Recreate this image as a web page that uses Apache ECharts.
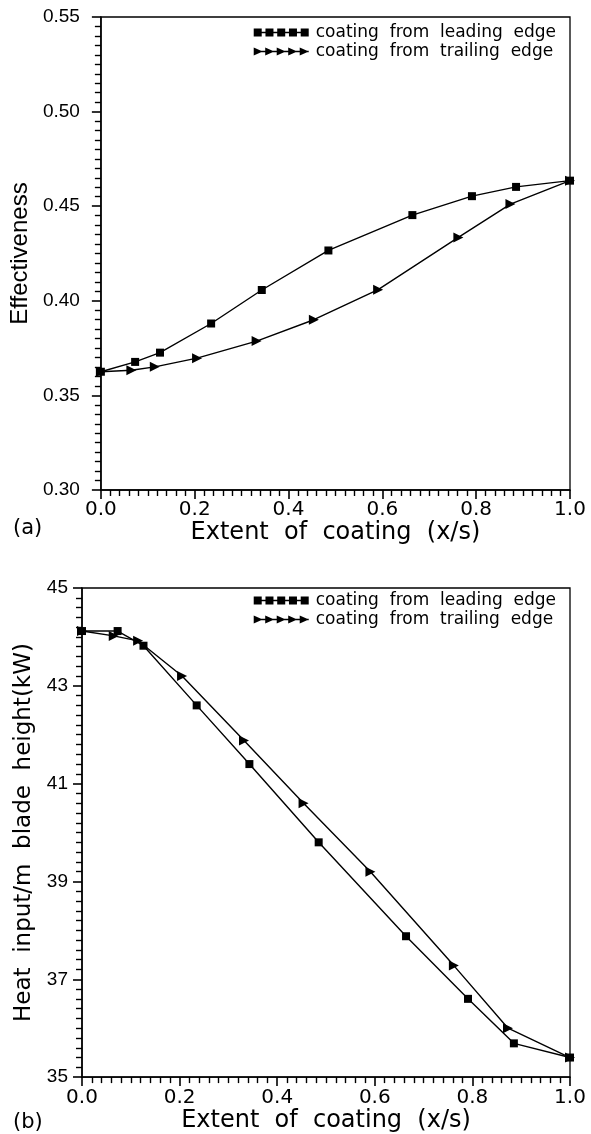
<!DOCTYPE html>
<html lang="en">
<head>
  <meta charset="UTF-8" />
  <title>Effectiveness and heat input vs extent of coating</title>
  <script src="https://cdn.jsdelivr.net/npm/echarts@6/dist/echarts.min.js"></script>
  <style>
    body { margin: 0; background: #fff; }
    #chart { width: 591px; height: 1134px; }
  </style>
</head>
<body>
  <div id="chart"></div>
  <script>
    // x positions of the markers (extent of coating x/s)
    const xLead  = [0, 0.073, 0.126, 0.235, 0.343, 0.485, 0.664, 0.791, 0.885, 1.0];
    const xTrail = [0, 0.065, 0.115, 0.205, 0.332, 0.454, 0.591, 0.762, 0.873, 1.0];

    // (a) effectiveness
    const effLead  = [0.3625, 0.3677, 0.3726, 0.3880, 0.4057, 0.4266, 0.4453, 0.4553, 0.4602, 0.4635];
    const effTrail = [0.3625, 0.3633, 0.3651, 0.3697, 0.3787, 0.3900, 0.4059, 0.4335, 0.4511, 0.4635];

    // (b) heat input per m blade height (kW)
    const heatLead  = [44.12, 44.12, 43.82, 42.60, 41.40, 39.80, 37.88, 36.60, 35.69, 35.40];
    const heatTrail = [44.12, 44.02, 43.92, 43.20, 41.88, 40.60, 39.20, 37.28, 36.00, 35.40];

    const seriesNames = ['coating  from  leading  edge', 'coating  from  trailing  edge'];
    const xTicks = [0, 0.2, 0.4, 0.6, 0.8, 1.0];

    const pair = (xs, ys) => xs.map((x, i) => [x, ys[i]]);

    const hershey = '"DejaVu Sans", sans-serif';
    const helv = '"Liberation Sans", Arial, sans-serif';

    // legend icons: five squares / five triangles on a line
    const squareIcon = 'path://M0,3.3h55v1.4h-55z M0,0h8v8h-8z M11.75,0h8v8h-8z M23.5,0h8v8h-8z M35.25,0h8v8h-8z M47,0h8v8h-8z';
    const triIcon = 'path://M0,3.3h55v1.4h-55z M0,0L9,4L0,8z M11.5,0L20.5,4L11.5,8z M23,0L32,4L23,8z M34.5,0L43.5,4L34.5,8z M46,0L55,4L46,8z';

    const tick = { show: true, inside: false, length: 9, lineStyle: { color: '#000', width: 1.6 } };
    const minor = { show: true, splitNumber: 10, length: 6, lineStyle: { color: '#000', width: 1.4 } };
    const axisLn = { show: true, lineStyle: { color: '#000', width: 1.5 } };

    function xAxisCfg(gridIndex, nameGap, labelMargin) {
      return {
        type: 'value', gridIndex, min: 0, max: 1, interval: 0.2,
        name: 'Extent  of  coating  (x/s)', nameLocation: 'middle', nameGap,
        nameTextStyle: { fontFamily: hershey, fontSize: 24, color: '#000' },
        axisLine: axisLn, axisTick: tick, minorTick: minor,
        splitLine: { show: false },
        axisLabel: {
          margin: labelMargin, fontFamily: hershey, fontSize: 20, color: '#000',
          formatter: v => xTicks.some(t => Math.abs(t - v) < 1e-9) ? v.toFixed(1) : ''
        }
      };
    }

    function lineSeries(name, data, xi, symbol) {
      return {
        name, type: 'line', xAxisIndex: xi, yAxisIndex: xi, data,
        symbol, symbolSize: symbol === 'rect' ? 8 : 10,
        symbolRotate: symbol === 'rect' ? 0 : -90,
        showSymbol: true, animation: false,
        lineStyle: { color: '#000', width: 1.4 },
        itemStyle: { color: '#000' }
      };
    }

    function legendCfg(top) {
      return {
        top, right: 30, orient: 'vertical', selectedMode: false,
        itemWidth: 55, itemHeight: 8, itemGap: 2, align: 'left',
        textStyle: { fontFamily: hershey, fontSize: 17, color: '#000', padding: [0, 0, 0, 2] },
        data: [
          { name: seriesNames[0], icon: squareIcon },
          { name: seriesNames[1], icon: triIcon }
        ]
      };
    }

    const chart = echarts.init(document.getElementById('chart'));
    chart.setOption({
      backgroundColor: '#fff',
      animation: false,
      legend: [legendCfg(19), legendCfg(587)],
      grid: [
        { left: 98, top: 17, width: 472, height: 473, show: true, borderColor: '#000', borderWidth: 1.3, backgroundColor: 'transparent' },
        { left: 82, top: 588, width: 488, height: 490, show: true, borderColor: '#000', borderWidth: 1.3, backgroundColor: 'transparent' }
      ],
      xAxis: [xAxisCfg(0, 29, 10), xAxisCfg(1, 30, 11)],
      yAxis: [
        {
          type: 'value', gridIndex: 0, min: 0.30, max: 0.55, interval: 0.05,
          name: 'Effectiveness', nameLocation: 'middle', nameGap: 61,
          nameTextStyle: { fontFamily: helv, fontSize: 24, color: '#000' },
          axisLine: axisLn, axisTick: tick, minorTick: minor,
          splitLine: { show: false },
          axisLabel: { margin: 21, fontFamily: helv, fontSize: 19, color: '#000', formatter: v => v.toFixed(2) }
        },
        {
          type: 'value', gridIndex: 1, min: 35, max: 45, interval: 2,
          name: 'Heat  input/m  blade  height(kW)', nameLocation: 'middle', nameGap: 45,
          nameTextStyle: { fontFamily: hershey, fontSize: 23, color: '#000' },
          axisLine: axisLn, axisTick: tick, minorTick: minor,
          splitLine: { show: false },
          axisLabel: { margin: 14, fontFamily: helv, fontSize: 19, color: '#000' }
        }
      ],
      graphic: [
        { type: 'text', left: 13, top: 518, style: { text: '(a)', font: '21px "DejaVu Sans"', fill: '#000' } },
        { type: 'text', left: 13, top: 1112, style: { text: '(b)', font: '21px "DejaVu Sans"', fill: '#000' } }
      ],
      series: [
        lineSeries(seriesNames[0], pair(xLead, effLead), 0, 'rect'),
        lineSeries(seriesNames[1], pair(xTrail, effTrail), 0, 'triangle'),
        lineSeries(seriesNames[0], pair(xLead, heatLead), 1, 'rect'),
        lineSeries(seriesNames[1], pair(xTrail, heatTrail), 1, 'triangle')
      ]
    });
  </script>
</body>
</html>
